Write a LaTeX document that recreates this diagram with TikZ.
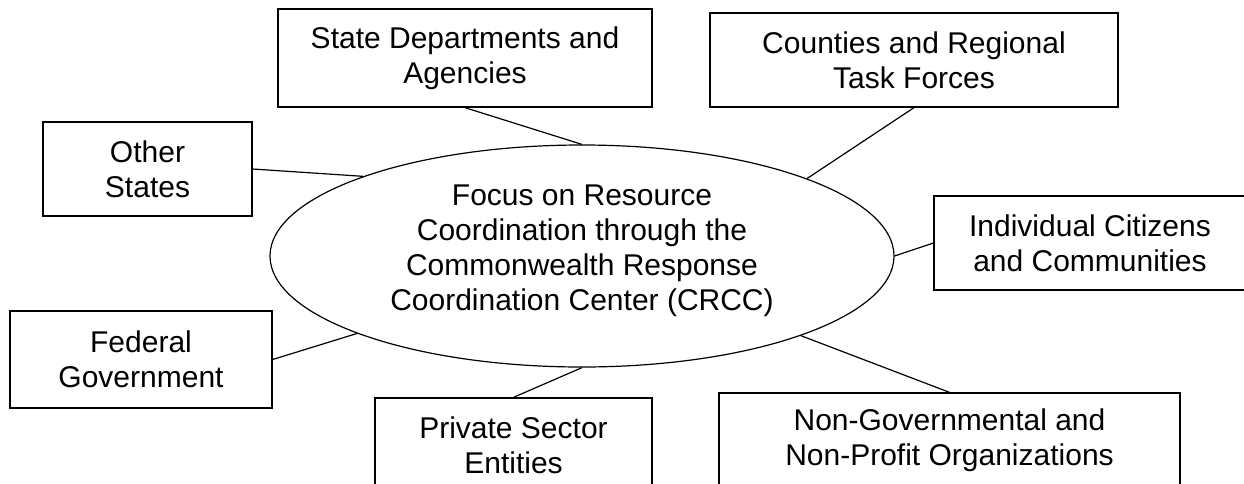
\documentclass[tikz,border=0pt]{standalone}
\usepackage{fontspec}
\setmainfont{Liberation Sans}
\usetikzlibrary{shapes.geometric}
\tikzset{
  box/.style={draw, line width=1.3pt, rectangle, inner sep=0pt, align=center,
    font=\fontsize{30}{35}\selectfont},
  conn/.style={line width=1.2pt},
  hub/.style={draw, line width=1.2pt, ellipse, inner sep=0pt,
    minimum width=624pt, minimum height=222pt},
  hubtext/.style={inner sep=0pt, align=center, font=\fontsize{30}{35}\selectfont}
}
\begin{document}
\begin{tikzpicture}[x=1pt, y=-1pt]
\useasboundingbox (0,0) rectangle (1244,483);
\node[box, minimum width=374pt, minimum height=98pt] (state) at (465,58) {State Departments and\\Agencies};
\node[box, minimum width=408pt, minimum height=94pt] (counties) at (914,60) {Counties and Regional\\Task Forces};
\node[box, minimum width=209pt, minimum height=94pt] (other) at (147.5,169) {Other\\States};
\node[box, minimum width=312pt, minimum height=94pt] (indiv) at (1090,243) {Individual Citizens\\and Communities};
\node[box, minimum width=262pt, minimum height=97pt] (fed) at (141,359.5) {Federal\\Government};
\node[box, minimum width=277pt, minimum height=94pt] (priv) at (513.5,445) {Private Sector\\Entities};
\node[box, minimum width=461pt, minimum height=94pt] (ngo) at (949.5,440) {Non-Governmental and\\Non-Profit Organizations};
\node[hub] (crcc) at (582,256) {};
\node[hubtext] (crcctext) at (582,250.5) {Focus on Resource\\Coordination through the\\Commonwealth Response\\Coordination Center (CRCC)};
\draw[conn] (state.south) -- (crcc.north);
\draw[conn] (counties.south) -- (crcc.19.58);
\draw[conn] (other.east) -- (crcc.160.42);
\draw[conn] (indiv.west) -- (crcc.east);
\draw[conn] (fed.east) -- (crcc.199.58);
\draw[conn] (priv.north) -- (crcc.south);
\draw[conn] (ngo.north) -- (crcc.340.42);
\end{tikzpicture}
\end{document}
